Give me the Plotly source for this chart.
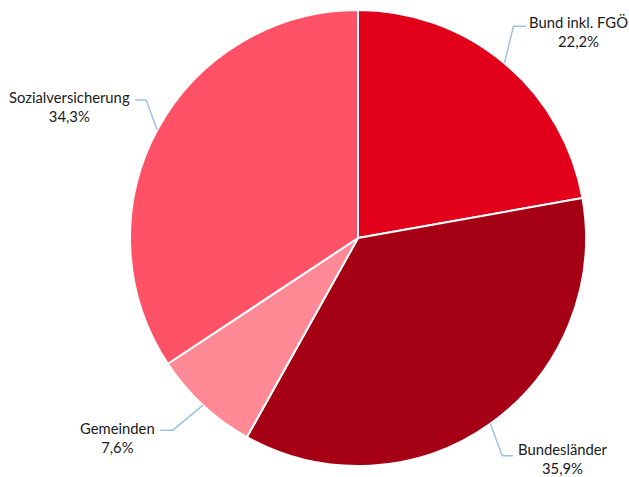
import math
import plotly.graph_objects as go

categories = ["Bund inkl. FGÖ", "Bundesländer", "Gemeinden", "Sozialversicherung"]
values = [22.2, 35.9, 7.6, 34.3]
value_labels = ["22,2%", "35,9%", "7,6%", "34,3%"]
colors = ["#E2001A", "#A50014", "#FF8A95", "#FF5266"]

W, H = 629, 477
cx, cy, R = 358, 238, 228

fig = go.Figure(go.Pie(
    labels=categories, values=values, sort=False, direction="clockwise",
    rotation=0, textinfo="none", hoverinfo="label+percent",
    marker=dict(colors=colors, line=dict(color="white", width=2)),
    domain=dict(x=[(cx - R) / W, (cx + R) / W], y=[(H - cy - R) / H, (H - cy + R) / H]),
    showlegend=False,
))

# label layout: (elbow offset from edge point, horizontal end x, text center x, text center y)
label_layout = [
    ((9, -37), 526, 578, 31),
    ((12, 32), 513, 563, 458),
    ((-30, 25), 160, 117, 437),
    ((-11, -30), 135, 69, 106),
]

def px(x):
    return x / W

def py(y):
    return 1 - y / H

shapes, annotations = [], []
cum = 0
for i, v in enumerate(values):
    mid = (cum + v / 2) / sum(values) * 2 * math.pi
    cum += v
    ex = cx + R * math.sin(mid)
    ey = cy - R * math.cos(mid)
    (dx, dy), hx, tx, ty = label_layout[i]
    elx, ely = ex + dx, ey + dy
    shapes.append(dict(type="path", xref="paper", yref="paper",
                       path=f"M {px(ex)} {py(ey)} L {px(elx)} {py(ely)} L {px(hx)} {py(ely)}",
                       line=dict(color="#9DC3E6", width=1.5)))
    annotations.append(dict(x=px(tx), y=py(ty), xref="paper", yref="paper",
                            text=f"{categories[i]}<br>{value_labels[i]}", showarrow=False,
                            align="center", xanchor="center", yanchor="middle",
                            font=dict(family="Lato, sans-serif", size=14.8, color="#1a1a1a")))

fig.update_layout(width=W, height=H, margin=dict(l=0, r=0, t=0, b=0),
                  paper_bgcolor="white", plot_bgcolor="white",
                  shapes=shapes, annotations=annotations)
fig.write_html("out.html", config={"displayModeBar": False},
               post_script="document.body.style.margin='0';document.body.style.overflow='hidden';")
